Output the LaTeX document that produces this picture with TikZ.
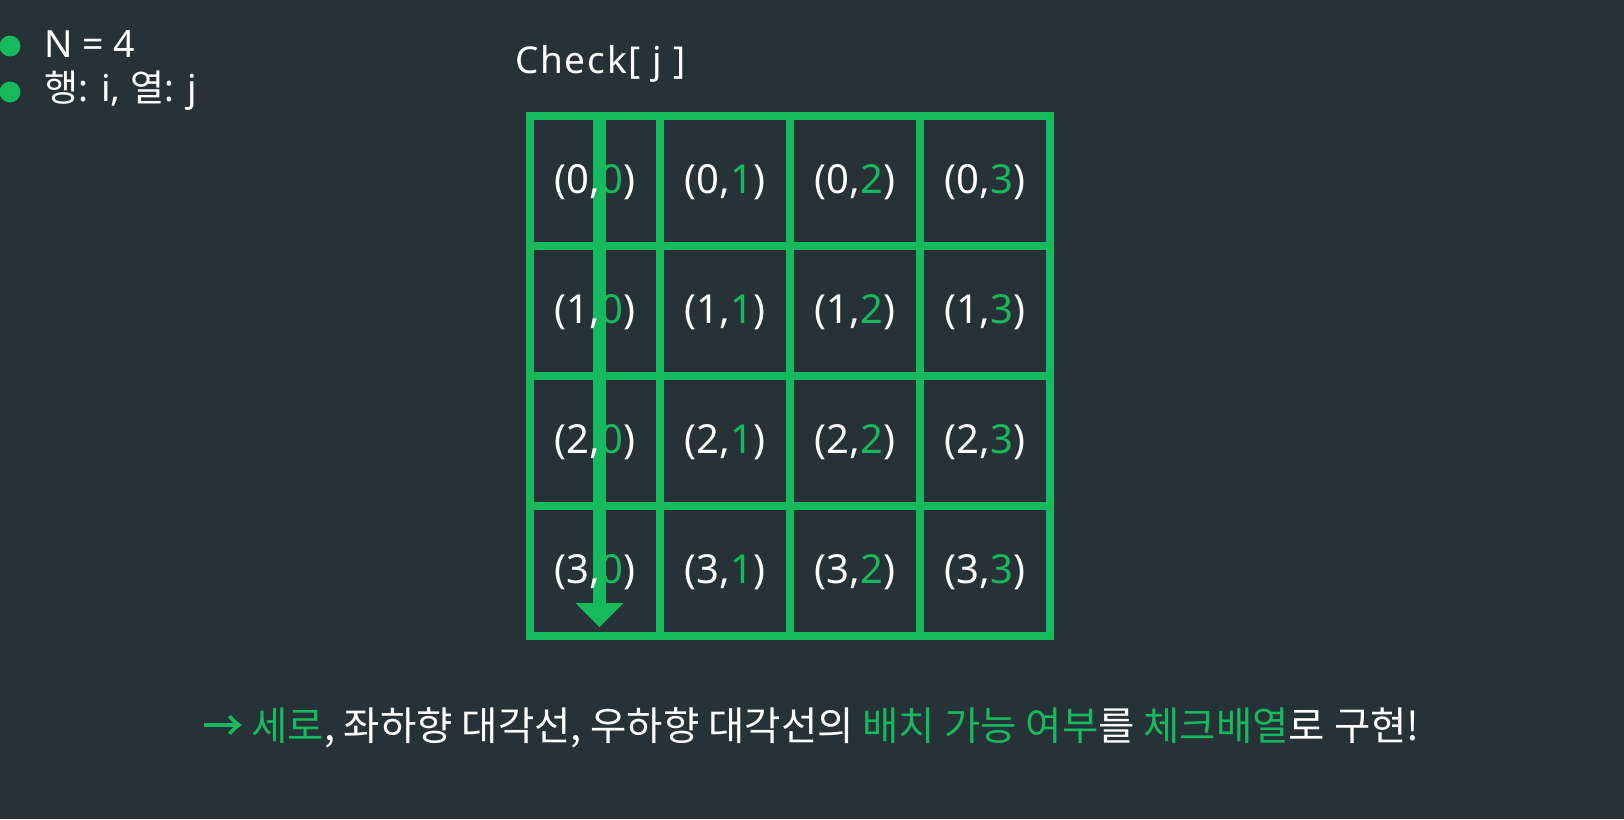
\documentclass[tikz,border=0pt]{standalone}
\usepackage{fontspec}
\setmainfont{Noto Sans}
\newfontfamily\kr{Noto Sans CJK KR}
\newfontfamily\krbold{Noto Sans CJK KR}[FakeBold=2.5]
\newfontfamily\spaced{Noto Sans}[LetterSpace=5]
\definecolor{bg}{RGB}{38,50,56}
\definecolor{gr}{RGB}{22,185,92}
\begin{document}
\begin{tikzpicture}[x=1pt,y=-1pt,
  txt/.style={inner sep=0pt,outer sep=0pt,font=\fontsize{37}{40}\selectfont,text=white},
  celltxt/.style={inner sep=0pt,outer sep=0pt,font=\fontsize{40}{44}\selectfont,text=white,anchor=base},
  gridline/.style={draw=gr,line width=8pt},
  bullet/.style={circle,fill=gr,inner sep=0pt,minimum size=21pt}]
\fill[bg] (0,0) rectangle (1624,819);
\useasboundingbox (0,0) rectangle (1624,819);
% bullets
\node[bullet] (b1) at (10,46) {};
\node[bullet] (b2) at (10,92) {};
\node[txt,anchor=base west,font=\fontsize{37.5}{40}\selectfont] (t1) at (44.5,57) {N = 4};
\node[txt,anchor=base west] (t2) at (44.5,101) {{\kr 행}: i, {\kr 열}: j};
\node[txt,anchor=base west,font=\spaced\fontsize{37}{40}\selectfont] (chk) at (515,73.5) {Check[ j ]};
% arrow
\coordinate (as) at (599.5,120);
\coordinate (ae) at (599.5,627);
\fill[gr] (593,120) rectangle (606,604);
\fill[gr] (575.5,603) -- (623.5,603) -- (599.5,627) -- cycle;
% grid
\draw[gridline] (530,116) rectangle (1050,636);
\foreach \k in {1,2,3}{
  \draw[gridline] (530+130*\k,116) -- (530+130*\k,636);
  \draw[gridline] (530,116+130*\k) -- (1050,116+130*\k);
}
% cell labels
\foreach \i in {0,1,2,3}{
  \foreach \j in {0,1,2,3}{
    \node[celltxt] (c\i\j) at (595+130*\j,193.5+130*\i) {(\i,\textcolor{gr}{\j})};
  }
}
% bottom text
\node[txt,anchor=base west,font=\kr\fontsize{39.5}{42}\selectfont] (bottom) at (203,740) {\textcolor{gr}{{\krbold →} 세로}, 좌하향 대각선, 우하향 대각선의 \textcolor{gr}{배치 가능 여부}를 \textcolor{gr}{체크배열}로 구현!};
\end{tikzpicture}
\end{document}
